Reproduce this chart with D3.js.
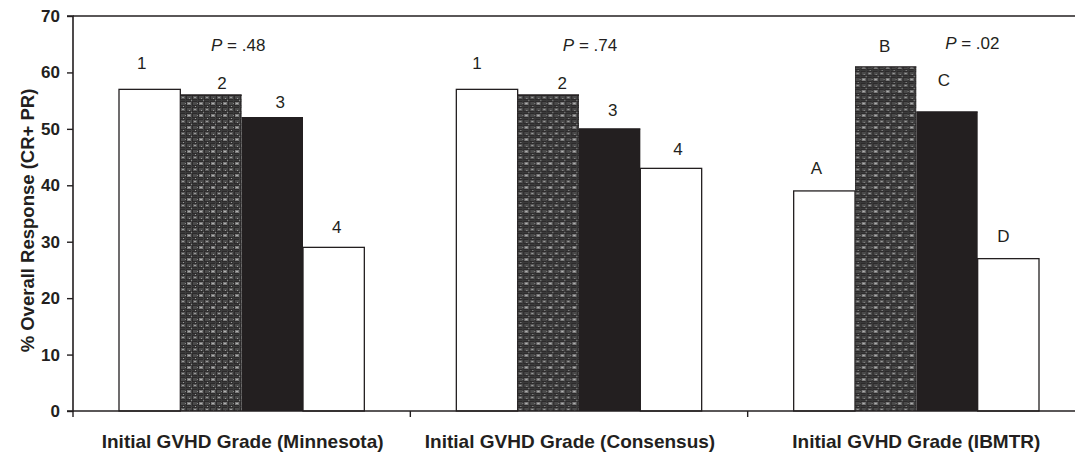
<!DOCTYPE html>
<html><head><meta charset="utf-8">
<script src="https://cdn.jsdelivr.net/npm/d3@7"></script>
<style>body{margin:0;background:#fff}svg{display:block}text{font-family:"Liberation Sans",Arial,sans-serif;fill:#231f20}</style>
</head><body>
<script>
const groups = ["Initial GVHD Grade (Minnesota)", "Initial GVHD Grade (Consensus)", "Initial GVHD Grade (IBMTR)"];
const series = ["s1", "s2", "s3", "s4"];
const values = [
  [57, 56, 52, 29],
  [57, 56, 50, 43],
  [39, 61, 53, 27]
];
const barLabels = [
  ["1", "2", "3", "4"],
  ["1", "2", "3", "4"],
  ["A", "B", "C", "D"]
];
const pLabels = [".48", ".74", ".02"];
const yTicks = [0, 10, 20, 30, 40, 50, 60, 70];

(function(){
const W = 1075, H = 453;
const svg = d3.select("body").append("svg").attr("width", W).attr("height", H);
const pLeft = 73, pRight = 1085, pTop = 16, pBottom = 411;

const defs = svg.append("defs");
const pat = defs.append("pattern").attr("id", "grid").attr("patternUnits", "userSpaceOnUse")
  .attr("width", 12).attr("height", 12).attr("x", 0).attr("y", 0);
pat.append("rect").attr("width", 12).attr("height", 12).attr("fill", "#2c2a2b");
[[0,0,4,3,"#5a5a5a"],[6,0,4,3,"#4a4a4a"],[0,6,4,3,"#4a4a4a"],[6,6,4,3,"#7a7a7a"],
 [1,1,2,1,"#9a9a9a"],[7,7,2,1,"#b0b0b0"],[4,4,1,1,"#aaa"],[10,10,1,1,"#aaa"],
 [4,0,1,12,"#3c3c3c"],[10,0,1,12,"#444"],[0,4,12,1,"#3a3a3a"],[0,10,12,1,"#3a3a3a"],
 [4,7,1,1,"#888"],[10,4,1,1,"#888"],[2,10,1,1,"#999"],[8,2,1,1,"#999"]].forEach(d=>{
  pat.append("rect").attr("x",d[0]).attr("y",d[1]).attr("width",d[2]).attr("height",d[3]).attr("fill",d[4]);
});

const x0 = d3.scaleBand().domain(groups).range([pLeft, pRight]).paddingInner(0).paddingOuter(0);
const x1 = d3.scaleBand().domain(series).range([0, x0.bandwidth()]).paddingInner(0).paddingOuter(0.75);
const y = d3.scaleLinear().domain([0, 70]).range([pBottom, pTop]);

const fills = ["#fff", "url(#grid)", "#231f20", "#fff"];
// label nudges [dx, baseline distance above bar top]
const nudge = [
  [[-8,20],[11,6],[8,10],[3,14]],
  [[-10,20],[14,6],[3,13],[7,13]],
  [[-8,17],[-1,15],[-3,26],[-5,17]]
];
const pDx = [-3.5, 11, 56], pY = [51, 51, 49];
const xLabDx = [1, -9, 0];

svg.append("line").attr("x1", pLeft).attr("x2", W).attr("y1", y(70)).attr("y2", y(70))
  .attr("stroke", "#231f20").attr("stroke-width", 1.6);

groups.forEach((g, gi) => {
  const gEl = svg.append("g").attr("transform", `translate(${x0(g)},0)`);
  series.forEach((s, si) => {
    const v = values[gi][si];
    const isWhite = si === 0 || si === 3;
    gEl.append("rect")
      .attr("x", x1(s)).attr("width", x1.bandwidth())
      .attr("y", y(v)).attr("height", y(0) - y(v))
      .attr("fill", fills[si])
      .attr("stroke", isWhite ? "#231f20" : "none")
      .attr("stroke-width", 1.3);
    if (!isWhite) {
      gEl.append("line").attr("x1", x1(s)).attr("x2", x1(s) + x1.bandwidth())
        .attr("y1", y(v)).attr("y2", y(v)).attr("stroke", "#231f20").attr("stroke-width", 1.3);
    }
    gEl.append("text")
      .attr("x", x1(s) + x1.bandwidth() / 2 + nudge[gi][si][0])
      .attr("y", y(v) - nudge[gi][si][1])
      .attr("text-anchor", "middle")
      .attr("font-size", 17)
      .text(barLabels[gi][si]);
  });
  const pt = svg.append("text")
    .attr("x", x0(g) + x0.bandwidth() / 2 + pDx[gi])
    .attr("y", pY[gi])
    .attr("text-anchor", "middle")
    .attr("font-size", 17);
  pt.append("tspan").attr("font-style", "italic").text("P");
  pt.append("tspan").text(" = " + pLabels[gi]);
});

const yAxis = d3.axisLeft(y).tickValues(yTicks).tickSize(6).tickPadding(7).tickFormat(d3.format("d"));
const ya = svg.append("g").attr("transform", `translate(${pLeft},0)`).call(yAxis);
ya.select(".domain").attr("stroke", "#231f20").attr("stroke-width", 1.6).attr("d", `M-6,${pTop}H0V${pBottom}H-6`);
ya.selectAll(".tick line").attr("stroke", "#231f20").attr("stroke-width", 1.4);
ya.selectAll(".tick text").attr("font-size", 17).attr("font-weight", "bold")
  .attr("font-family", "Liberation Sans, Arial, sans-serif").attr("fill", "#231f20");

const xa = svg.append("g").attr("transform", `translate(0,${pBottom})`);
xa.append("line").attr("x1", pLeft).attr("x2", W).attr("y1", 0).attr("y2", 0)
  .attr("stroke", "#231f20").attr("stroke-width", 1.6);
const bounds = groups.map(g => x0(g)).concat([x0(groups[2]) + x0.bandwidth()]);
bounds.forEach(b => {
  xa.append("line").attr("x1", b).attr("x2", b).attr("y1", 0).attr("y2", 6)
    .attr("stroke", "#231f20").attr("stroke-width", 1.4);
});
groups.forEach((g, gi) => {
  xa.append("text").attr("x", x0(g) + x0.bandwidth() / 2 + xLabDx[gi]).attr("y", 37)
    .attr("text-anchor", "middle").attr("font-size", 19).attr("font-weight", "bold").text(g);
});

svg.append("text").attr("transform", `translate(34,220.5) rotate(-90)`)
  .attr("text-anchor", "middle").attr("font-size", 18.5).attr("font-weight", "bold")
  .text("% Overall Response (CR+ PR)");
})();
</script>
</body></html>
